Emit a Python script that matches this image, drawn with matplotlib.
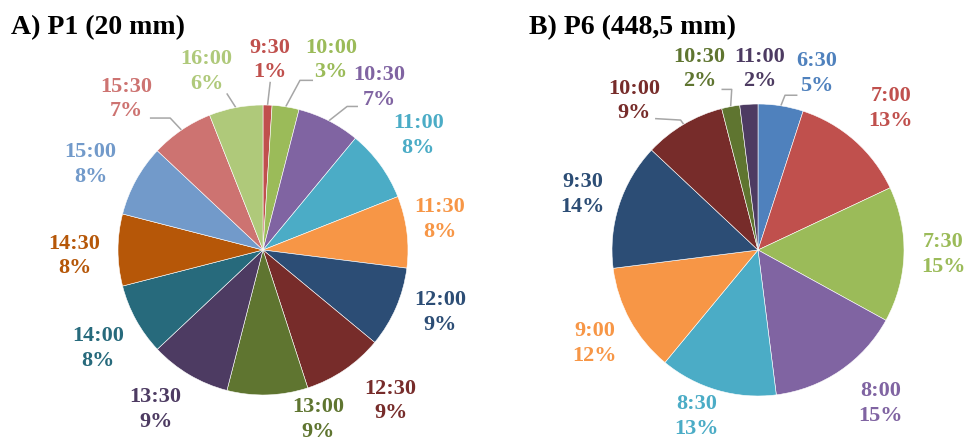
import numpy as np
import matplotlib.pyplot as plt

plt.rcParams['font.family'] = ['Liberation Serif', 'DejaVu Serif']

# ---- data ----
p1_times = ['9:30', '10:00', '10:30', '11:00', '11:30', '12:00', '12:30',
            '13:00', '13:30', '14:00', '14:30', '15:00', '15:30', '16:00']
p1_pct = [1, 3, 7, 8, 8, 9, 9, 9, 9, 8, 8, 8, 7, 6]
p1_colors = ['#C0504D', '#9BBB59', '#8064A2', '#4BACC6', '#F79646', '#2C4D75',
             '#772C2A', '#5F7530', '#4D3B62', '#276A7C', '#B65708', '#729ACA',
             '#CD7371', '#AFC97A']

p6_times = ['6:30', '7:00', '7:30', '8:00', '8:30', '9:00', '9:30',
            '10:00', '10:30', '11:00']
p6_pct = [5, 13, 15, 15, 13, 12, 14, 9, 2, 2]
p6_colors = ['#4F81BD', '#C0504D', '#9BBB59', '#8064A2', '#4BACC6', '#F79646',
             '#2C4D75', '#772C2A', '#5F7530', '#4D3B62']

# ---- layout (label positions in pie-radius units) ----
p1_label_xy = [(0.05, 1.31), (0.47, 1.31), (0.80, 1.12), (1.07, 0.79),
               (1.22, 0.21), (1.22, -0.43), (0.88, -1.04), (0.38, -1.17),
               (-0.74, -1.10), (-1.14, -0.68), (-1.30, -0.04), (-1.19, 0.59),
               (-0.94, 1.04), (-0.39, 1.23)]
# leader lines: index -> (label end, elbow)
p1_leaders = {0: ((0.05, 1.16), (0.05, 1.16)),
              1: ((0.345, 1.17), (0.255, 1.17)),
              2: ((0.655, 0.99), (0.58, 0.99)),
              12: ((-0.78, 0.91), (-0.64, 0.91)),
              13: ((-0.25, 1.08), (-0.25, 1.08))}

p6_label_xy = [(0.40, 1.21), (0.91, 0.97), (1.27, -0.03), (0.84, -1.05),
               (-0.42, -1.14), (-1.12, -0.64), (-1.20, 0.38), (-0.85, 1.02),
               (-0.40, 1.24), (0.01, 1.24)]
p6_leaders = {0: ((0.27, 1.06), (0.185, 1.06)),
              7: ((-0.705, 0.90), (-0.53, 0.89)),
              8: ((-0.25, 1.10), (-0.18, 1.10))}

W, H = 967, 440
fig = plt.figure(figsize=(W / 100, H / 100), dpi=100)


def draw_pie(cx, cy, r, values, times, colors, label_xy, leaders, title, title_x):
    hw, hh = 235, 215
    ax = fig.add_axes([(cx - hw) / W, (H - cy - hh) / H, 2 * hw / W, 2 * hh / H])
    ax.pie(values, colors=colors, startangle=90, counterclock=False, radius=1,
           wedgeprops=dict(edgecolor='white', linewidth=0.4))
    ax.set_xlim(-hw / r, hw / r)
    ax.set_ylim(-hh / r, hh / r)
    ax.axis('off')

    cum = np.cumsum(values) - np.array(values) / 2
    mids = np.deg2rad(cum / np.sum(values) * 360)
    for i, (t, v, c) in enumerate(zip(times, values, colors)):
        x, y = label_xy[i]
        ax.text(x, y, f'{t}\n{v}%', color=c, fontsize=16, fontweight='bold',
                ha='center', va='center', multialignment='center',
                linespacing=1.3)
        if i in leaders:
            (x1, y1), (x2, y2) = leaders[i]
            ex, ey = np.sin(mids[i]), np.cos(mids[i])
            ax.plot([x1, x2, ex], [y1, y2, ey], color='#A6A6A6', lw=1.1,
                    solid_capstyle='butt', zorder=0)

    fig.text(title_x / W, 1 - 28 / H, title, fontsize=20, fontweight='bold',
             ha='left', va='center', color='black')


draw_pie(263, 250, 145, p1_pct, p1_times, p1_colors, p1_label_xy, p1_leaders,
         'A) P1 (20 mm)', 11)
draw_pie(758, 250, 146, p6_pct, p6_times, p6_colors, p6_label_xy, p6_leaders,
         'B) P6 (448,5 mm)', 529)

fig.savefig('out.png', dpi=100)
